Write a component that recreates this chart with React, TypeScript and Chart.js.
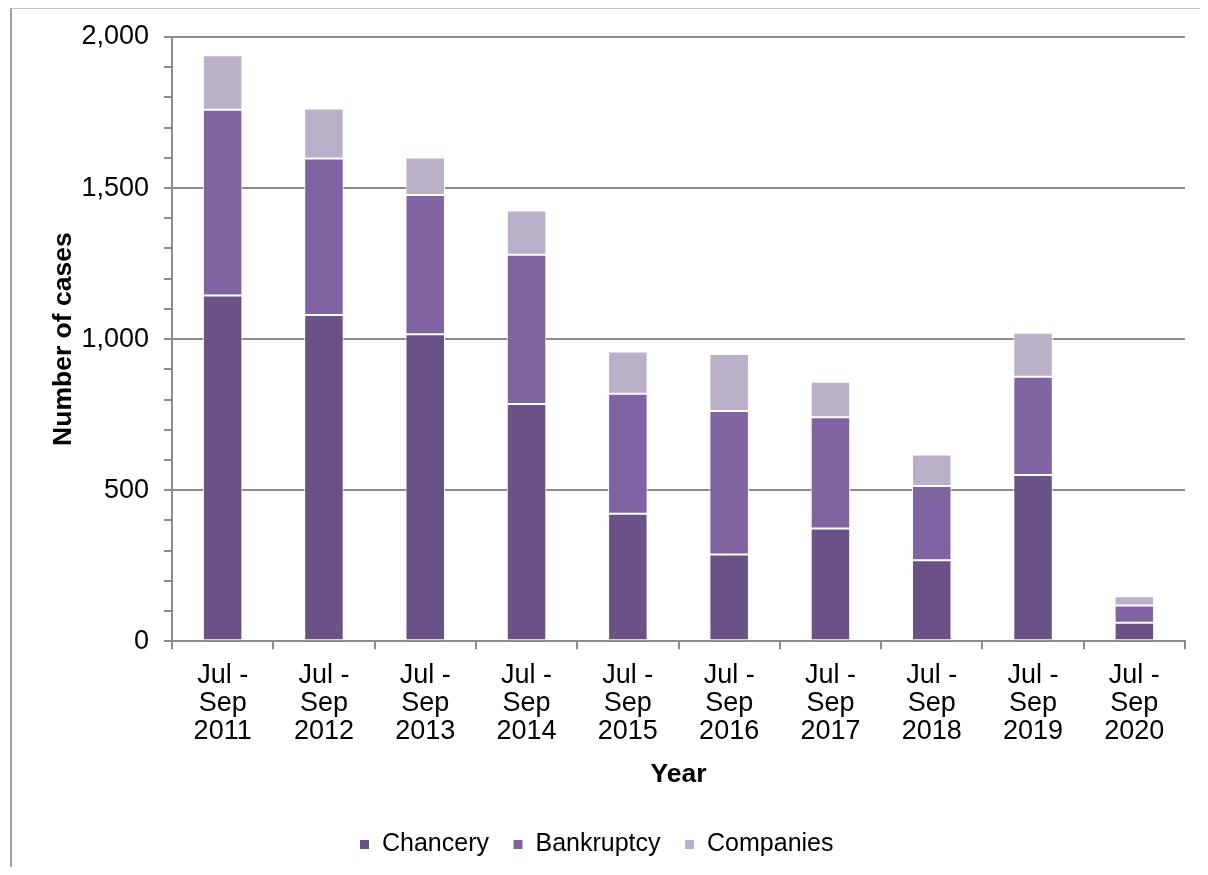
import React, { useEffect, useRef } from "react";
import { Chart, registerables } from "chart.js";

Chart.register(...registerables);

const categories: string[][] = [
  ["Jul -", "Sep", "2011"],
  ["Jul -", "Sep", "2012"],
  ["Jul -", "Sep", "2013"],
  ["Jul -", "Sep", "2014"],
  ["Jul -", "Sep", "2015"],
  ["Jul -", "Sep", "2016"],
  ["Jul -", "Sep", "2017"],
  ["Jul -", "Sep", "2018"],
  ["Jul -", "Sep", "2019"],
  ["Jul -", "Sep", "2020"],
];

const chancery = [1144, 1080, 1016, 785, 422, 287, 373, 268, 550, 61];
const bankruptcy = [615, 518, 461, 494, 397, 475, 368, 246, 325, 57];
const companies = [181, 165, 124, 147, 140, 189, 118, 104, 146, 31];

const seriesNames = ["Chancery", "Bankruptcy", "Companies"];
const seriesColors = ["#6A5287", "#8064A2", "#BAB0C9"];

const FONT = "'Liberation Sans', Arial, sans-serif";
const GRID = "#8c8c8c";

export default function App() {
  const canvasRef = useRef<HTMLCanvasElement | null>(null);

  useEffect(() => {
    if (!canvasRef.current) return;
    const values = [chancery, bankruptcy, companies];
    const chart = new Chart(canvasRef.current, {
      type: "bar",
      data: {
        labels: categories,
        datasets: values.map((v, i) => ({
          label: seriesNames[i],
          data: v,
          backgroundColor: seriesColors[i],
          borderColor: "#ffffff",
          borderWidth: 1,
          borderSkipped: false,
          categoryPercentage: 1,
          barPercentage: 0.39,
        })),
      },
      options: {
        animation: false,
        responsive: false,
        maintainAspectRatio: false,
        layout: { padding: { top: 27, right: 15, bottom: 0, left: 0 } },
        plugins: {
          tooltip: { enabled: false },
          legend: {
            position: "bottom",
            labels: {
              boxWidth: 10,
              boxHeight: 10,
              padding: 24,
              color: "#000000",
              font: { family: FONT, size: 25 },
            },
          },
        },
        scales: {
          x: {
            stacked: true,
            grid: {
              drawOnChartArea: false,
              drawTicks: true,
              tickLength: 8,
              color: GRID,
              lineWidth: 2,
            },
            border: { display: true, color: GRID, width: 2 },
            ticks: {
              color: "#000000",
              padding: 12,
              maxRotation: 0,
              autoSkip: false,
              font: { family: FONT, size: 27, lineHeight: "28px" },
            },
            title: {
              display: true,
              text: "Year",
              color: "#000000",
              padding: { top: 1.5, bottom: 17.5 },
              font: { family: FONT, size: 26.5, weight: "bold" },
            },
          },
          y: {
            stacked: true,
            min: 0,
            max: 2000,
            afterFit: (scale: any) => {
              scale.width = 164;
            },
            grid: {
              drawTicks: true,
              tickLength: 8,
              lineWidth: 2,
              color: (ctx: any) =>
                ctx.tick && ctx.tick.value % 500 === 0 ? GRID : "rgba(0,0,0,0)",
              tickColor: GRID,
            },
            border: { display: true, color: GRID, width: 2 },
            ticks: {
              stepSize: 100,
              autoSkip: false,
              padding: 15,
              color: "#000000",
              font: { family: FONT, size: 27, lineHeight: "28px" },
              callback: (v: any) =>
                Number(v) % 500 === 0 ? Number(v).toLocaleString("en-US") : "",
            },
            title: {
              display: true,
              text: "Number of cases",
              color: "#000000",
              padding: { top: 40, bottom: 0 },
              font: { family: FONT, size: 26.5, weight: "bold" },
            },
          },
        },
      },
    });
    return () => chart.destroy();
  }, []);

  return (
    <div style={{ position: "relative", width: 1192, height: 859, overflow: "hidden" }}>
      <div
        style={{
          position: "absolute",
          left: 2,
          top: 0,
          width: 1300,
          height: 1000,
          borderTop: "1px solid #c4c4c4",
          borderLeft: "2px solid #a0a0a0",
          boxSizing: "border-box",
        }}
      />
      <canvas
        ref={canvasRef}
        width={1192}
        height={859}
        style={{ position: "absolute", left: 0, top: 0, width: 1192, height: 859 }}
      />
    </div>
  );
}
